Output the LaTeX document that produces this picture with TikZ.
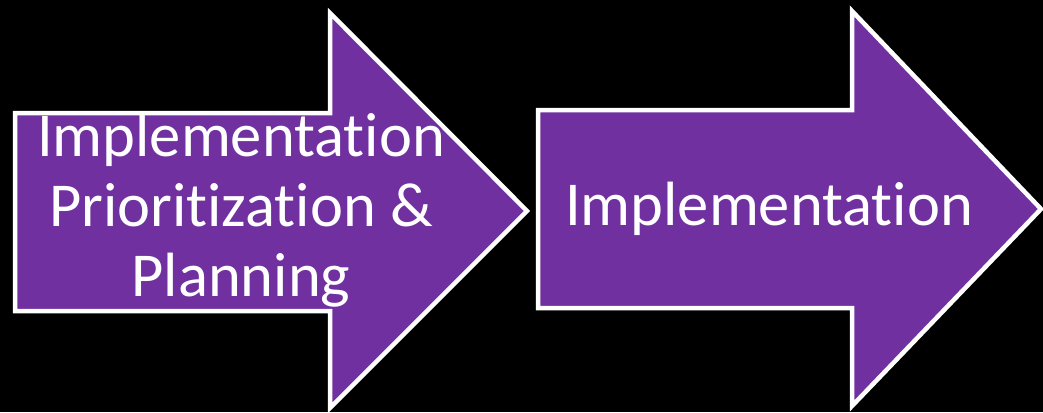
\documentclass[tikz,border=0pt]{standalone}
\usepackage{fontspec}
\setmainfont{Carlito}[Ligatures=NoCommon]
\definecolor{stagepurple}{HTML}{7030A0}
\tikzset{
  stagearrow/.style={fill=stagepurple, draw=white, line width=4.5pt, line join=miter},
  stagelabel/.style={text=white, align=center, inner sep=0pt, font=\fontsize{62.5}{70}\selectfont}
}
\begin{document}
\begin{tikzpicture}[x=1pt,y=-1pt]
  \useasboundingbox (0,0) rectangle (1043,412);
  \fill[black] (0,0) rectangle (1043,412);
  % first stage arrow
  \draw[stagearrow] (15,113) -- (330,113) -- (330,13) -- (527,211)
    -- (330,408) -- (330,311) -- (15,311) -- cycle;
  % second stage arrow
  \draw[stagearrow] (538,110) -- (852,110) -- (852,11) -- (1041,209)
    -- (852,406) -- (852,308) -- (538,308) -- cycle;
  \node[stagelabel, anchor=center] (plan) at (241,210)
    {Implementation\\Prioritization \&\\Planning};
  \node[stagelabel, anchor=base] (impl) at (769,225) {Implementation};
\end{tikzpicture}
\end{document}
